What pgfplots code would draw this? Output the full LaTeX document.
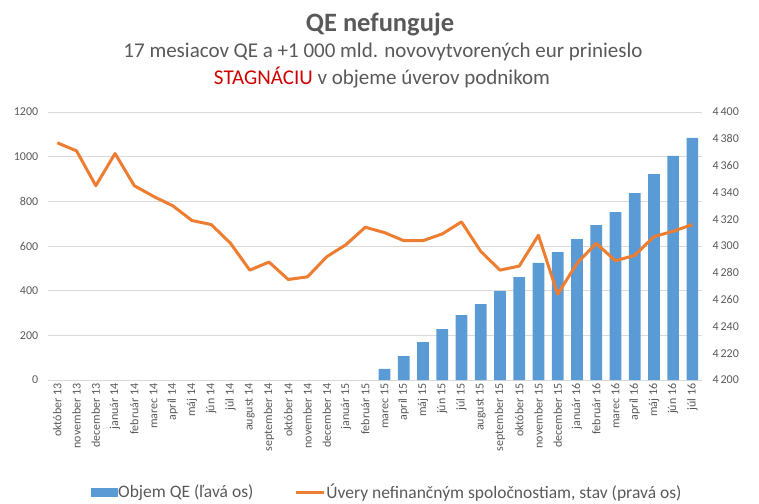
\documentclass[border=0pt]{standalone}
\usepackage{pgfplots}
\pgfplotsset{compat=1.18}
\usepackage{fontspec}
\setmainfont{Carlito}
\definecolor{qeblue}{HTML}{5B9BD5}
\definecolor{loanor}{HTML}{ED7D31}
\definecolor{txt}{HTML}{595959}
\definecolor{grd}{HTML}{D9D9D9}
\definecolor{stagred}{HTML}{D00000}
\pgfplotsset{
  common/.style={
    at={(47.7pt,123pt)}, anchor=south west, scale only axis,
    width=654.3pt, height=268pt, xmin=-0.5, xmax=33.5,
    axis line style={draw=none}, tick style={draw=none},
    /pgf/number format/assume math mode=true,
    tick label style={text=txt, font=\fontsize{12}{14}\selectfont},
  }
}
\begin{document}
\begin{tikzpicture}
\path[use as bounding box] (0pt,0pt) rectangle (759pt,503pt);
\node[anchor=base,text=txt,font=\bfseries\fontsize{26.5}{30}\selectfont] at (380pt,471pt) {QE nefunguje};
\node[anchor=base,text=txt,font=\fontsize{21}{24}\selectfont] at (383pt,445.5pt) {17 mesiacov QE a +1 000 mld. novovytvorených eur prinieslo};
\node[anchor=base,text=txt,font=\fontsize{21}{24}\selectfont] at (382pt,418.5pt) {\textcolor{stagred}{STAGNÁCIU} v objeme úverov podnikom};
\begin{axis}[common,
  ymin=0, ymax=1200, ytick={0,200,...,1200},
  /pgf/number format/1000 sep={},
  ymajorgrids, grid style={grd, line width=0.75pt},
  y tick label style={xshift=-6pt},
  xtick={0,...,33},
  xticklabels={október 13,november 13,december 13,január 14,február 14,marec 14,apríl 14,máj 14,jún 14,júl 14,august 14,september 14,október 14,november 14,december 14,január 15,február 15,marec 15,apríl 15,máj 15,jún 15,júl 15,august 15,september 15,október 15,november 15,december 15,január 16,február 16,marec 16,apríl 16,máj 16,jún 16,júl 16},
  x tick label style={rotate=90, anchor=east},
]
\addplot[ybar, bar width=11.7pt, fill=qeblue, draw=none] coordinates {
(17,50) (18,107) (19,170) (20,228) (21,291) (22,340) (23,398) (24,461) (25,524) (26,573) (27,631) (28,694) (29,752) (30,837) (31,922) (32,1003) (33,1084)};
\end{axis}
\begin{axis}[common,
  ymin=4200, ymax=4400, ytick={4200,4220,...,4400},
  yticklabel pos=right, xtick=\empty,
  y tick label style={xshift=7pt},
  /pgf/number format/1000 sep={\,},
  legend columns=2,
  legend style={at={(0.518,-0.418)}, anchor=center, draw=none, fill=none,
    font=\fontsize{17.5}{20}\selectfont, text=txt,
    nodes={inner xsep=1pt},
    /tikz/every even column/.append style={column sep=40pt}},
]
\addlegendimage{legend image code/.code={\fill[qeblue] (0pt,-4pt) rectangle (26pt,4pt);}}
\addlegendentry{Objem QE (ľavá os)}
\addplot[loanor, line width=3pt, line join=round,
  legend image code/.code={\draw[loanor, line width=3pt] (0pt,0pt) -- (28pt,0pt);}] coordinates {
(0,4377) (1,4371) (2,4345) (3,4369) (4,4345) (5,4337) (6,4330) (7,4319) (8,4316) (9,4302) (10,4282) (11,4288) (12,4275) (13,4277) (14,4292) (15,4301) (16,4314) (17,4310) (18,4304) (19,4304) (20,4309) (21,4318) (22,4296) (23,4282) (24,4285) (25,4308) (26,4264) (27,4287) (28,4302) (29,4289) (30,4293) (31,4307) (32,4311) (33,4316)};
\addlegendentry{Úvery nefinančným spoločnostiam, stav (pravá os)}
\end{axis}
\end{tikzpicture}
\end{document}
